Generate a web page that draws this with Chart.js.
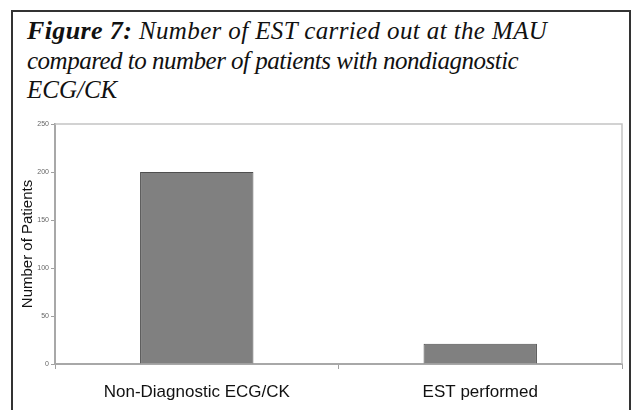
<!DOCTYPE html>
<html>
<head>
<meta charset="utf-8">
<script src="https://cdn.jsdelivr.net/npm/chart.js@4/dist/chart.umd.min.js"></script>
<style>
  html, body { margin: 0; padding: 0; background: #fff; }
  body { width: 638px; height: 410px; position: relative; overflow: hidden; }
  #box { position: absolute; left: 11px; top: 10px; width: 620px; height: 420px;
         border: 2px solid #333; box-sizing: border-box; }
  #title { position: absolute; left: 27px; top: 16px; margin: 0;
           font-family: "Liberation Serif", "DejaVu Serif", serif; font-style: italic;
           font-weight: normal; font-size: 25px; line-height: 29.5px; color: #111; white-space: nowrap; }
  #title b { font-weight: bold; font-size: 26px; }
  #title .l1 { letter-spacing: 0.38px; }
  #title .l2 { letter-spacing: -0.5px; }
  #wrap { position: absolute; left: 0; top: 0; width: 638px; height: 410px; }
</style>
</head>
<body>
<div id="box"></div>
<div id="title"><span class="l1"><b>Figure 7:</b> Number of EST carried out at the MAU</span><br><span class="l2">compared to number of patients with nondiagnostic</span><br>ECG/CK</div>
<div id="wrap"><canvas id="c" width="638" height="410"></canvas></div>
<script>
const categories = ["Non-Diagnostic ECG/CK", "EST performed"];
const patients = [200, 21];
const yTicks = [0, 50, 100, 150, 200, 250];
const yTitle = "Number of Patients";

const frame = {
  id: 'frame',
  afterDatasetsDraw(chart) {
    const a = chart.chartArea, ctx = chart.ctx;
    ctx.save();
    ctx.strokeStyle = '#c4c4c4';
    ctx.lineWidth = 1.5;
    ctx.beginPath();
    ctx.moveTo(a.left, a.top);
    ctx.lineTo(a.right, a.top);
    ctx.lineTo(a.right, a.bottom);
    ctx.stroke();
    ctx.restore();
  }
};

new Chart(document.getElementById('c'), {
  type: 'bar',
  data: {
    labels: categories,
    datasets: [{
      data: patients,
      backgroundColor: '#808080',
      borderColor: '#4f4f4f',
      borderWidth: 1,
      barPercentage: 0.4,
      categoryPercentage: 1.0
    }]
  },
  options: {
    responsive: false,
    animation: false,
    layout: { padding: { left: 0, right: 16, top: 124, bottom: 0 } },
    plugins: { legend: { display: false }, tooltip: { enabled: false } },
    scales: {
      x: {
        grid: { offset: true, drawOnChartArea: false, tickLength: 5, color: '#a0a0a0', lineWidth: 1 },
        border: { color: '#a8a8a8', width: 2 },
        ticks: { color: '#111', padding: 13, font: { family: 'Liberation Sans, Arial, sans-serif', size: 17 } },
        afterFit(s) { s.height = 46; }
      },
      y: {
        min: 0, max: 250,
        afterBuildTicks(s) { s.ticks = yTicks.map(v => ({ value: v })); },
        grid: { drawOnChartArea: false, tickLength: 4, color: '#a0a0a0' },
        border: { color: '#a8a8a8', width: 2 },
        ticks: { color: '#666', padding: 2, font: { family: 'Liberation Sans, Arial, sans-serif', size: 7 } },
        title: { display: true, text: yTitle, color: '#111', padding: { top: 19, bottom: 0 },
                 font: { family: 'Liberation Sans, Arial, sans-serif', size: 15 } },
        afterFit(s) { s.width = 55; }
      }
    }
  },
  plugins: [frame]
});
</script>
</body>
</html>
